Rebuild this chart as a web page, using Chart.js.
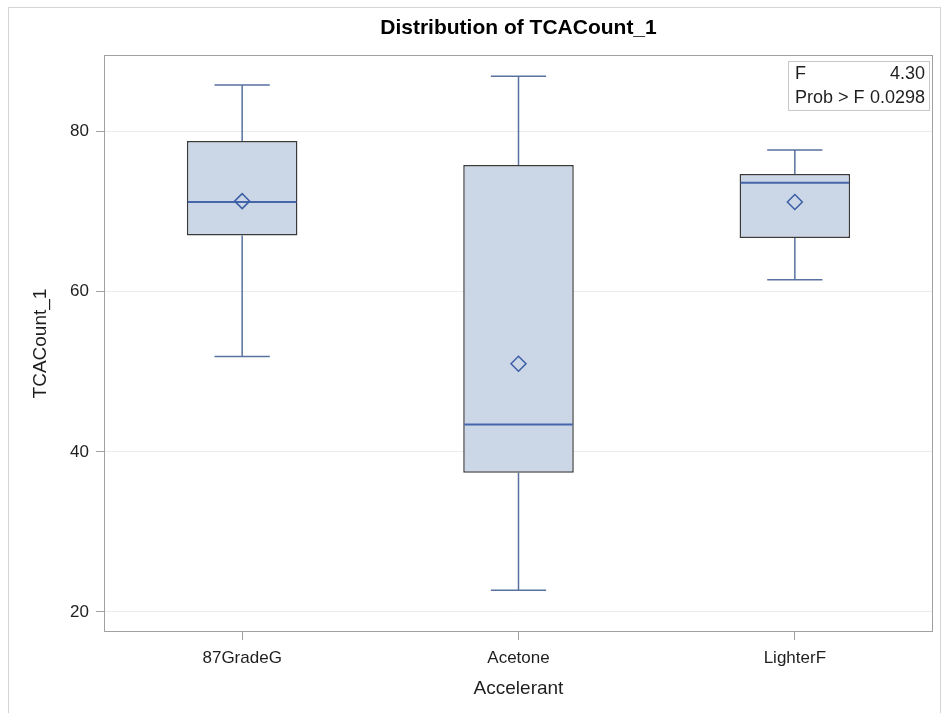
<!DOCTYPE html>
<html>
<head>
<meta charset="utf-8">
<title>Distribution of TCACount_1</title>
<script src="https://cdn.jsdelivr.net/npm/chart.js@4.4.1/dist/chart.umd.min.js"></script>
<style>
  html, body { margin: 0; padding: 0; background: #fff; }
  #wrap { position: relative; width: 942px; height: 713px; }
  #frame { position: absolute; left: 8px; top: 7px; right: 1px; bottom: 0; border: 1px solid #d4d4d4; border-bottom: none; pointer-events: none; }
  canvas { display: block; }
</style>
</head>
<body>
<div id="wrap">
  <canvas id="chart" width="942" height="713"></canvas>
  <div id="frame"></div>
</div>
<script>
// Groups and five-number summaries of TCACount_1
const categories = ['87GradeG', 'Acetone', 'LighterF'];
const minValues    = [51.9, 22.7, 61.5];
const q1Values     = [67.0, 37.4, 66.7];
const medianValues = [71.2, 43.4, 73.6];
const q3Values     = [78.8, 75.8, 74.7];
const maxValues    = [85.8, 86.9, 77.7];
const meanValues   = [71.3, 51.0, 71.2];
const yTicks = [20, 40, 60, 80];
// ANOVA statistics shown in the inset table
const statLabels = ['F', 'Prob > F'];
const statValues = ['4.30', '0.0298'];
const chartTitle = 'Distribution of TCACount_1';

const FONT = "'Liberation Sans', Arial, sans-serif";
const TEXT = '#1e1e1e';
const BOX_FILL = '#cbd6e6';
const BOX_EDGE = '#3a3a3a';
const WHISKER = '#5872a0';
const MEDIAN = '#4566aa';
const MEAN = '#3c5ea6';

// Whiskers, caps, frame, title and the stats inset, drawn through the chart's scales
const boxExtras = {
  id: 'boxExtras',
  beforeDatasetsDraw(chart) {
    const {ctx, chartArea: a, scales: {x, y}} = chart;
    const meta = chart.getDatasetMeta(0);
    ctx.save();
    // plot frame
    ctx.strokeStyle = '#a0a0a0';
    ctx.lineWidth = 1;
    ctx.strokeRect(a.left + 0.5, a.top + 0.5, a.right - a.left - 1, a.bottom - a.top - 1);
    // whiskers
    ctx.strokeStyle = WHISKER;
    ctx.lineWidth = 1.5;
    categories.forEach((c, i) => {
      const cx = x.getPixelForValue(i);
      const half = meta.data[i].width / 4;
      ctx.beginPath();
      ctx.moveTo(cx, y.getPixelForValue(q3Values[i]));
      ctx.lineTo(cx, y.getPixelForValue(maxValues[i]));
      ctx.moveTo(cx, y.getPixelForValue(q1Values[i]));
      ctx.lineTo(cx, y.getPixelForValue(minValues[i]));
      ctx.moveTo(cx - half, y.getPixelForValue(maxValues[i]));
      ctx.lineTo(cx + half, y.getPixelForValue(maxValues[i]));
      ctx.moveTo(cx - half, y.getPixelForValue(minValues[i]));
      ctx.lineTo(cx + half, y.getPixelForValue(minValues[i]));
      ctx.stroke();
    });
    ctx.restore();
  },
  afterDatasetDraw(chart, args) {
    if (args.index !== 0) return;
    const {ctx, scales: {x, y}} = chart;
    const meta = chart.getDatasetMeta(0);
    ctx.save();
    ctx.strokeStyle = MEDIAN;
    ctx.lineWidth = 2;
    categories.forEach((c, i) => {
      const cx = x.getPixelForValue(i);
      const half = meta.data[i].width / 2 - 1;
      const py = y.getPixelForValue(medianValues[i]);
      ctx.beginPath();
      ctx.moveTo(cx - half, py);
      ctx.lineTo(cx + half, py);
      ctx.stroke();
    });
    ctx.restore();
  },
  afterDraw(chart) {
    const {ctx, chartArea: a} = chart;
    ctx.save();
    // title, centred over the plot area
    ctx.fillStyle = '#000';
    ctx.font = 'bold 21px ' + FONT;
    ctx.textAlign = 'center';
    ctx.textBaseline = 'middle';
    ctx.fillText(chartTitle, (a.left + a.right) / 2, 28);
    // stats inset
    const w = 142, h = 50;
    const left = a.right - w - 3, top = a.top + 6;
    ctx.fillStyle = '#ffffff';
    ctx.fillRect(left, top, w, h);
    ctx.strokeStyle = '#c8c8c8';
    ctx.lineWidth = 1;
    ctx.strokeRect(left + 0.5, top + 0.5, w - 1, h - 1);
    ctx.fillStyle = TEXT;
    ctx.font = '18px ' + FONT;
    statLabels.forEach((lab, i) => {
      const ty = top + 13 + i * 24;
      ctx.textAlign = 'left';
      ctx.fillText(lab, left + 7, ty);
      ctx.textAlign = 'right';
      ctx.fillText(statValues[i], left + w - 5, ty);
    });
    ctx.restore();
  }
};

new Chart(document.getElementById('chart'), {
  type: 'bar',
  data: {
    labels: categories,
    datasets: [
      {
        type: 'bar',
        data: q1Values.map((q1, i) => [q1, q3Values[i]]),
        backgroundColor: BOX_FILL,
        borderColor: BOX_EDGE,
        borderWidth: 1.5,
        borderSkipped: false,
        barPercentage: 0.4,
        categoryPercentage: 1,
        order: 2
      },
      {
        type: 'line',
        data: meanValues,
        showLine: false,
        pointStyle: 'rectRot',
        pointRadius: 7.5,
        pointBorderWidth: 1.5,
        pointBorderColor: MEAN,
        pointBackgroundColor: 'rgba(0,0,0,0)',
        order: 1
      }
    ]
  },
  options: {
    responsive: false,
    animation: false,
    layout: { padding: { left: 20, right: 9, top: 55, bottom: 0 } },
    plugins: {
      legend: { display: false },
      tooltip: { enabled: false },
      title: { display: false }
    },
    scales: {
      x: {
        offset: true,
        grid: { display: true, offset: false, drawOnChartArea: false, tickLength: 8, tickColor: '#a0a0a0' },
        border: { display: false },
        ticks: { color: TEXT, padding: 8, font: { family: FONT, size: 17 } },
        title: { display: true, text: 'Accelerant', color: TEXT, font: { family: FONT, size: 19 }, padding: { top: 0, bottom: 13 } },
        afterFit(s) { s.height = 81; }
      },
      y: {
        min: 17.5,
        max: 89.55,
        afterBuildTicks(s) { s.ticks = yTicks.map(v => ({ value: v })); },
        grid: { color: '#ebebeb', tickLength: 8, tickColor: '#a0a0a0' },
        border: { display: false },
        ticks: { color: TEXT, padding: 7, font: { family: FONT, size: 17 } },
        title: { display: true, text: 'TCACount_1', color: TEXT, font: { family: FONT, size: 19 }, padding: { top: 9, bottom: 0 } },
        afterFit(s) { s.width = 84; }
      }
    }
  },
  plugins: [boxExtras]
});
</script>
</body>
</html>
